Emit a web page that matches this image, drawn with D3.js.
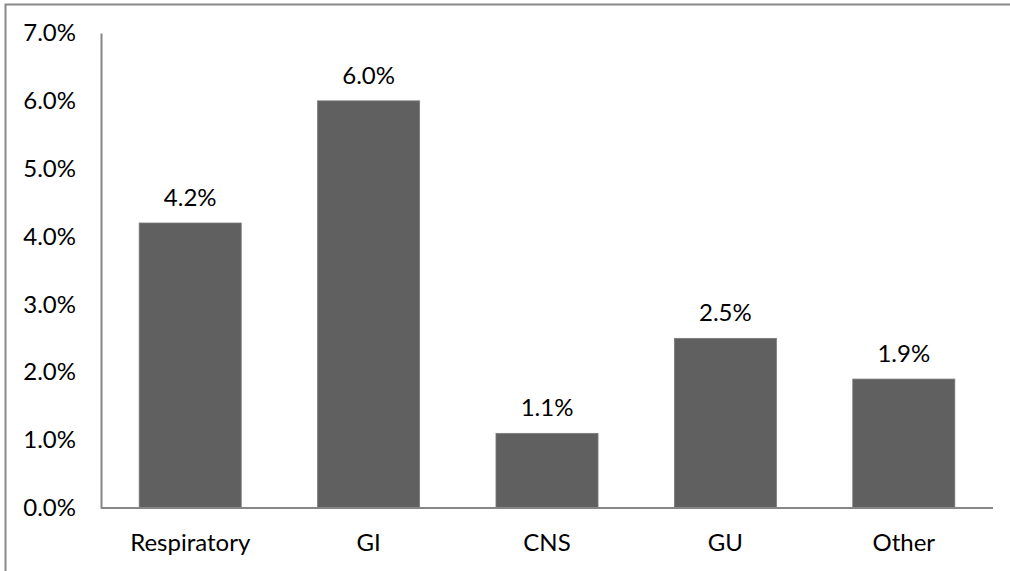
<!DOCTYPE html>
<html>
<head>
<meta charset="utf-8">
<script src="https://cdn.jsdelivr.net/npm/d3@7"></script>
<style>
  html, body { margin: 0; padding: 0; background: #fff; }
  svg { display: block; }
  text { font-family: Lato, "Open Sans", sans-serif; fill: #000; }
</style>
</head>
<body>
<svg id="chart" width="1010" height="571"></svg>
<script>
// Share of cases by system
const categories = ["Respiratory", "GI", "CNS", "GU", "Other"];
const values = [4.2, 6.0, 1.1, 2.5, 1.9];
const yTicks = [0, 1, 2, 3, 4, 5, 6, 7];

const svg = d3.select("#chart");
const W = 1010, H = 571;
const plot = { left: 101, right: 993, top: 33, bottom: 508 };
const fontSize = "24px";

// chart frame (extends past the right and bottom edges)
svg.append("rect")
  .attr("x", 5.5).attr("y", 4.5)
  .attr("width", W + 10).attr("height", H + 10)
  .attr("fill", "none").attr("stroke", "#888").attr("stroke-width", 2);

const x = d3.scaleBand()
  .domain(categories)
  .range([plot.left, plot.right])
  .paddingInner(0.428)
  .paddingOuter(0.214);

const y = d3.scaleLinear()
  .domain([0, 7])
  .range([plot.bottom, plot.top]);

// bars
svg.append("g").selectAll("rect")
  .data(categories)
  .join("rect")
  .attr("x", d => x(d))
  .attr("width", x.bandwidth())
  .attr("y", (d, i) => y(values[i]))
  .attr("height", (d, i) => y(0) - y(values[i]))
  .attr("fill", "#606060")
  .attr("stroke", "#7a7a7a")
  .attr("stroke-width", 0.8);

// value labels
svg.append("g").selectAll("text")
  .data(categories)
  .join("text")
  .attr("x", d => x(d) + x.bandwidth() / 2)
  .attr("y", (d, i) => y(values[i]) - 17)
  .attr("text-anchor", "middle")
  .style("font-size", fontSize)
  .text((d, i) => values[i].toFixed(1) + "%");

// y axis
const yAxis = d3.axisLeft(y)
  .tickValues(yTicks)
  .tickSize(0)
  .tickPadding(25)
  .tickFormat(d => d.toFixed(1) + "%");
const gy = svg.append("g")
  .attr("transform", `translate(${plot.left},0)`)
  .call(yAxis);
gy.select(".domain").attr("stroke", "#868686").attr("stroke-width", 2);
gy.selectAll("text").style("font-size", fontSize).attr("fill", "#000");

// x axis
const xAxis = d3.axisBottom(x).tickSize(0).tickPadding(26);
const gx = svg.append("g")
  .attr("transform", `translate(0,${plot.bottom})`)
  .call(xAxis);
gx.select(".domain").attr("stroke", "#868686").attr("stroke-width", 2)
  .attr("d", `M${plot.left},0H${plot.right}`);
gx.selectAll("text").style("font-size", fontSize).attr("fill", "#000");
</script>
</body>
</html>
